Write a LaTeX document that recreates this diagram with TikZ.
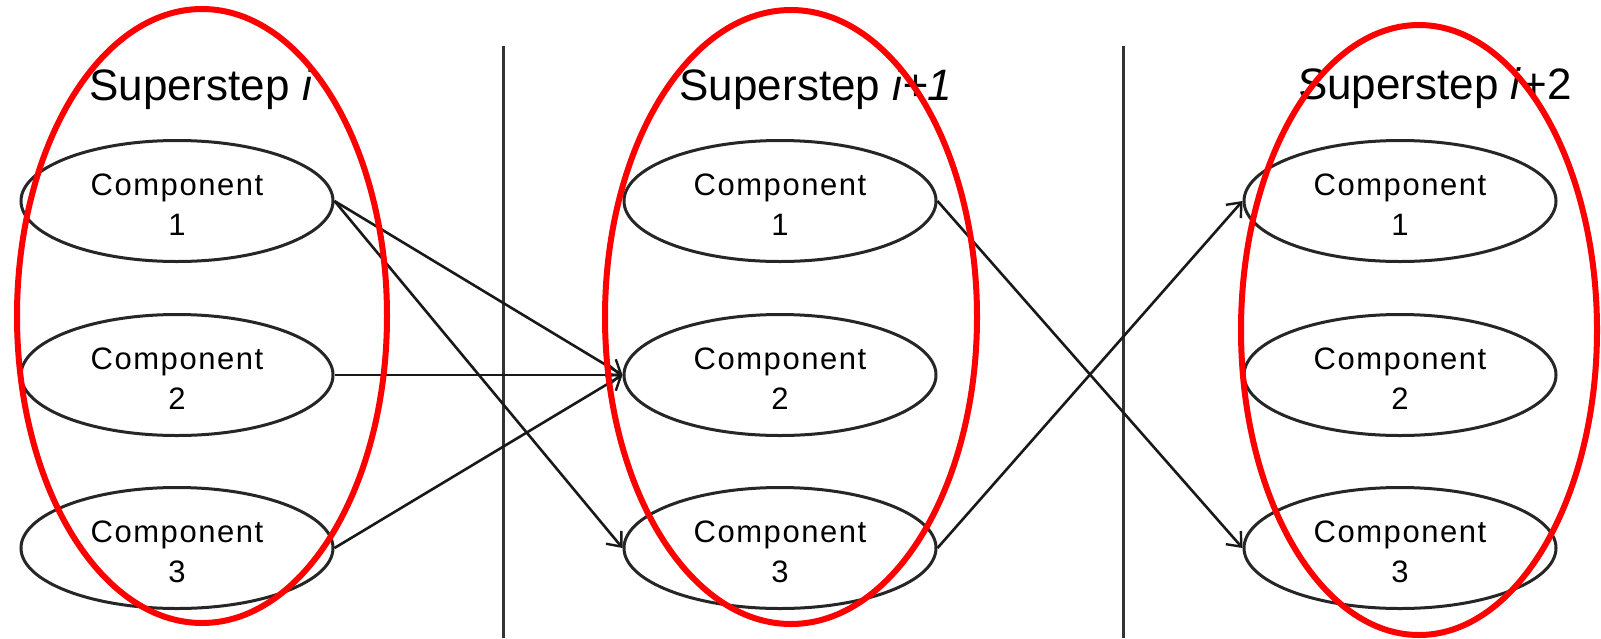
\documentclass[tikz,border=0pt]{standalone}
\usepackage{fontspec}
\setmainfont{Liberation Sans}
\newfontfamily\compfont[LetterSpace=5]{Liberation Sans}
\usetikzlibrary{shapes.geometric, arrows.meta}
\newcommand{\comptext}[1]{\rule{0pt}{29pt}Component\\#1}
\begin{document}
\begin{tikzpicture}[x=1pt,y=-1pt,
  comp/.style={ellipse, draw=black!85, line width=3pt, minimum width=312pt, minimum height=121pt, inner sep=0pt, align=center, font=\compfont\fontsize{31}{40}\selectfont},
  ring/.style={ellipse, draw=red, line width=6pt, inner sep=0pt},
  title/.style={font=\fontsize{44}{50}\selectfont, anchor=base, inner sep=0pt},
  link/.style={line width=2.6pt, black!90, -{Straight Barb[length=12pt, width=20pt, line width=2.4pt]}},
  divider/.style={line width=3pt, black!80}]
\useasboundingbox (0,0) rectangle (1601,638);

% dividers
\coordinate (d1t) at (503,46);
\coordinate (d1b) at (503,638);
\coordinate (d2t) at (1123,46);
\coordinate (d2b) at (1123,638);
\draw[divider] (d1t) -- (d1b);
\draw[divider] (d2t) -- (d2b);

% titles
\node[title] (t1) at (201,100) {Superstep \textit{i}};
\node[title] (t2) at (816,100) {Superstep \textit{i+1}};
\node[title] (t3) at (1435,99) {Superstep \textit{i}+2};

% components
\node[comp] (a1) at (177,201) {\comptext{1}};
\node[comp] (a2) at (177,375) {\comptext{2}};
\node[comp] (a3) at (177,548) {\comptext{3}};
\node[comp] (b1) at (780,201) {\comptext{1}};
\node[comp] (b2) at (780,375) {\comptext{2}};
\node[comp] (b3) at (780,548) {\comptext{3}};
\node[comp] (c1) at (1400,201) {\comptext{1}};
\node[comp] (c2) at (1400,375) {\comptext{2}};
\node[comp] (c3) at (1400,548) {\comptext{3}};

% links
\draw[link] (a1.east) -- (b2.west);
\draw[link] (a1.east) -- (b3.west);
\draw[link] (a2.east) -- (b2.west);
\draw[link] (a3.east) -- (b2.west);
\draw[link] (b1.east) -- (c3.west);
\draw[link] (b3.east) -- (c1.west);

% red rings
\node[ring, minimum width=370pt, minimum height=614pt] (r1) at (202,316) {};
\node[ring, minimum width=372pt, minimum height=614pt] (r2) at (791,317) {};
\node[ring, minimum width=356pt, minimum height=610pt] (r3) at (1419,330) {};
\end{tikzpicture}
\end{document}
